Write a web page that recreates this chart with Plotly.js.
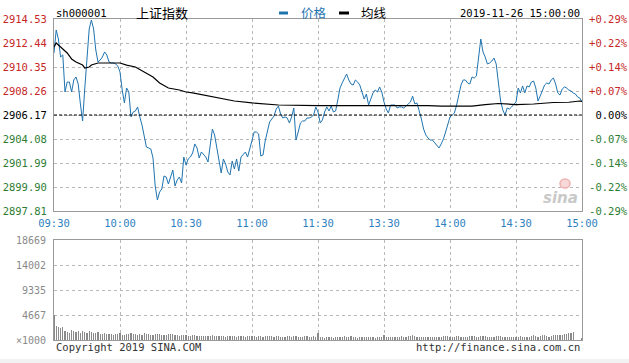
<!DOCTYPE html>
<html>
<head>
<meta charset="utf-8">
<script src="https://cdn.plot.ly/plotly-3.0.1.min.js"></script>
<style>
html,body{margin:0;padding:0;background:#fff;}
#chart{width:629px;height:363px;}
</style>
</head>
<body>
<div id="chart"></div>
<script>
// ---------- DATA ----------
const symbol = 'sh000001';
const indexName = '上证指数';
const stamp = '2019-11-26 15:00:00';
const timeLabels = ['09:30','10:00','10:30','11:00','11:30','13:30','14:00','14:30','15:00'];
const timeTickMinutes = [0,30,60,90,120,150,180,210,240];
const prevClose = 2906.17;
const priceTicks = [2897.81, 2899.90, 2901.99, 2904.08, 2906.17, 2908.26, 2910.35, 2912.44, 2914.53];
const volTicks = [0, 4667, 9335, 14002, 18669];
const volTickLabels = ['×1000','4667','9335','14002','18669'];

// price per minute (minute 0 = 09:30 ... 240 = 15:00)
const price = [
2911.57,2913.57,2912.79,2911.22,2911.40,2908.17,2909.04,2909.04,2908.17,2909.22,
2909.48,2908.87,2907.13,2905.65,2908.52,2911.13,2913.66,2914.44,2913.66,2911.83,
2910.79,2910.96,2911.22,2911.66,2911.40,2910.79,2910.70,2910.70,2910.61,2910.44,
2909.91,2908.35,2907.22,2908.52,2908.17,2906.00,2906.43,2906.52,2906.87,2906.00,
2905.30,2904.34,2903.38,2903.30,2903.21,2902.43,2899.99,2898.77,2899.46,2899.73,
2900.86,2900.77,2900.16,2900.77,2901.38,2899.99,2900.51,2900.77,2900.25,2902.51,
2901.82,2902.34,2902.51,2902.86,2903.65,2903.30,2902.43,2902.95,2902.77,2902.51,
2902.08,2903.47,2904.95,2904.43,2903.30,2902.34,2901.12,2902.34,2901.90,2901.21,
2900.95,2902.16,2901.47,2902.34,2901.29,2902.51,2902.77,2902.95,2902.51,2903.30,
2904.17,2904.69,2904.69,2904.52,2902.60,2902.69,2903.91,2904.78,2905.56,2905.82,
2906.08,2906.69,2906.95,2906.26,2905.91,2906.00,2905.91,2905.47,2906.00,2906.78,
2903.99,2904.69,2905.47,2905.65,2905.65,2905.91,2905.91,2906.00,2906.17,2906.87,
2906.43,2905.47,2905.74,2906.43,2906.87,2906.52,2906.95,2906.43,2906.52,2907.48,
2908.52,2908.96,2909.39,2909.74,2909.22,2908.87,2908.78,2909.22,2909.04,2908.78,
2908.17,2907.56,2908.00,2907.04,2907.56,2908.09,2908.35,2908.17,2908.61,2908.17,
2907.30,2906.69,2906.34,2907.04,2907.04,2907.04,2906.78,2906.87,2906.87,2906.78,
2906.95,2907.13,2907.30,2907.82,2907.13,2907.22,2906.61,2905.82,2904.95,2904.43,
2904.17,2903.99,2903.99,2903.73,2903.56,2903.30,2903.65,2904.08,2904.69,2905.39,
2906.00,2906.17,2906.34,2907.04,2907.91,2908.78,2909.22,2909.22,2908.96,2908.87,
2909.48,2909.39,2909.57,2911.05,2912.79,2911.66,2911.22,2910.61,2910.70,2910.87,
2911.13,2910.61,2909.22,2907.39,2906.61,2906.17,2906.78,2906.69,2906.87,2907.13,
2907.30,2908.52,2908.09,2908.70,2908.09,2908.70,2908.61,2909.04,2909.13,2908.52,
2907.39,2907.82,2908.35,2908.78,2908.96,2908.87,2909.22,2909.39,2908.87,2908.09,
2907.91,2908.43,2908.61,2908.52,2908.35,2908.26,2908.09,2908.00,2907.74,2907.65,
2907.30
];

// average price line, read at selected minutes
const avgMinutes = [0,1,4,6,8,10,13,14,16,17,20,30,33,37,41,45,48,52,57,60,63,70,78,82,90,96,102,120,137,138,160,170,176,190,196,202,210,218,227,234,239,240];
const avgValues  = [2912.09,2912.44,2911.92,2911.57,2911.05,2910.79,2910.52,2910.26,2910.35,2910.52,2910.70,2910.70,2910.52,2910.35,2909.91,2909.48,2908.96,2908.52,2908.35,2908.17,2908.09,2907.82,2907.56,2907.39,2907.22,2907.13,2907.04,2906.99,2906.99,2907.04,2907.04,2906.99,2906.95,2906.95,2907.08,2907.17,2907.08,2907.13,2907.26,2907.28,2907.39,2907.35];

// volume per minute (x1000)
const volume = [
4700,2650,2400,2200,2350,1650,1550,1400,1900,1750,
1450,1600,1350,1750,1550,1400,1650,1500,1250,1300,
1450,1200,1150,1250,1100,1050,1150,1000,1050,1100,
1250,1000,950,1050,1150,1400,1200,1100,1000,1050,
1000,1250,1150,1050,950,1000,1100,1200,1050,900,
950,1000,1150,1200,1050,900,850,800,900,1000,
950,800,750,850,900,800,750,700,800,750,
700,800,850,750,700,750,800,700,650,750,
800,700,750,650,700,750,700,650,700,750,
800,700,650,700,750,650,700,750,800,700,
650,700,750,650,600,650,700,750,650,700,
750,650,600,650,700,750,650,600,700,650,
1400,600,500,450,500,550,500,450,500,550,
500,600,700,550,500,700,600,500,450,500,
550,600,500,650,550,500,450,500,550,500,
900,600,550,500,650,550,500,600,700,550,
650,700,800,850,700,600,550,500,550,600,
550,500,600,550,500,600,650,700,800,750,
600,550,650,700,750,650,600,550,650,700,
800,750,650,600,700,800,750,650,600,550,
600,700,800,750,650,550,500,600,550,500,
600,650,700,600,550,500,600,800,850,700,
600,750,900,850,700,650,800,900,950,850,
900,1000,1100,1150,1300,1400,1550,0,0,0,
400
];

// ---------- LAYOUT HELPERS ----------
const W = 629, H = 363;
const L = 54, R = 582, T = 19, B = 340;
const px2x = p => (p - L) / (R - L);
const py2y = p => (B - p) / (B - T);

const RED = '#c62828', GREEN = '#2e7d32', BLUE = '#1f74b0', TBLUE = '#2f7fbf';
const MONO = 'DejaVu Sans Mono, Liberation Mono, monospace';
const CJK = 'Noto Sans CJK SC, Noto Sans, sans-serif';

const minutes = price.map((_, i) => i);

function colorFor(v) {
  if (Math.abs(v - prevClose) < 0.005) return '#000';
  return v > prevClose ? RED : GREEN;
}
const leftText = priceTicks.map(v => `<span style="color:${colorFor(v)}">${v.toFixed(2)}</span>`);
const rightText = priceTicks.map(v => {
  const p = (v - prevClose) / prevClose * 100;
  const s = Math.abs(p) < 0.005 ? '\u00a00.00%' : (p > 0 ? '+' : '') + p.toFixed(2) + '%';
  return `<span style="color:${colorFor(v)}">${s}</span>`;
});

const traces = [
  {x: minutes, y: price, type: 'scatter', mode: 'lines', line: {color: BLUE, width: 1}, xaxis: 'x', yaxis: 'y', hoverinfo: 'skip'},
  {x: avgMinutes, y: avgValues, type: 'scatter', mode: 'lines', line: {color: '#000', width: 1.2}, xaxis: 'x', yaxis: 'y', hoverinfo: 'skip'},
  {x: minutes, y: price, type: 'scatter', mode: 'lines', line: {color: 'rgba(0,0,0,0)', width: 0}, xaxis: 'x', yaxis: 'y3', hoverinfo: 'skip'},
  {x: minutes, y: volume, type: 'bar', width: 0.5, marker: {color: '#8a8a8a', line: {width: 0}}, xaxis: 'x2', yaxis: 'y2', hoverinfo: 'skip'}
];

const priceRange = [priceTicks[0], priceTicks[priceTicks.length - 1]];
const mainBottom = py2y(211);
const volTop = py2y(240);

const gridCommon = {showgrid: true, gridcolor: '#b8b8b8', griddash: 'dot', gridwidth: 1, zeroline: false,
  showline: true, mirror: true, linecolor: '#9a9a9a', linewidth: 1, ticks: ''};

const layout = {
  width: W, height: H,
  margin: {l: L, r: W - R, t: T, b: H - B, pad: 0},
  paper_bgcolor: '#fff', plot_bgcolor: '#fff',
  showlegend: false,
  bargap: 0,
  xaxis: Object.assign({}, gridCommon, {domain: [0, 1], anchor: 'y', range: [0, 240],
    tickmode: 'array', tickvals: timeTickMinutes, ticktext: timeLabels,
    tickfont: {family: MONO, size: 10.5, color: TBLUE}, ticklen: 2, tickcolor: 'rgba(0,0,0,0)', ticks: 'outside'}),
  yaxis: Object.assign({}, gridCommon, {domain: [mainBottom, 1], anchor: 'x', range: priceRange,
    tickmode: 'array', tickvals: priceTicks, ticktext: leftText,
    tickfont: {family: MONO, size: 10.5}, ticklen: 4, tickcolor: 'rgba(0,0,0,0)', ticks: 'outside'}),
  yaxis3: {overlaying: 'y', side: 'right', anchor: 'x', range: priceRange, showgrid: false, zeroline: false,
    showline: false, tickmode: 'array', tickvals: priceTicks, ticktext: rightText,
    tickfont: {family: MONO, size: 10.5}, ticklen: 4, tickcolor: 'rgba(0,0,0,0)', ticks: 'outside'},
  xaxis2: Object.assign({}, gridCommon, {domain: [0, 1], anchor: 'y2', range: [0, 240],
    tickmode: 'array', tickvals: timeTickMinutes, showticklabels: false}),
  yaxis2: Object.assign({}, gridCommon, {domain: [0, volTop], anchor: 'x2', range: [0, volTicks[volTicks.length - 1]],
    tickmode: 'array', tickvals: volTicks, ticktext: volTickLabels,
    tickfont: {family: MONO, size: 10, color: '#8a8a8a'}, ticklen: 5, tickcolor: 'rgba(0,0,0,0)', ticks: 'outside'}),
  shapes: [
    {type: 'line', xref: 'x', yref: 'y', x0: 0, x1: 240, y0: prevClose, y1: prevClose,
      line: {color: '#000', width: 1, dash: '3px,2px'}},
    {type: 'line', xref: 'paper', yref: 'paper', x0: px2x(279), x1: px2x(288), y0: py2y(13), y1: py2y(13),
      line: {color: BLUE, width: 3}},
    {type: 'line', xref: 'paper', yref: 'paper', x0: px2x(339), x1: px2x(349), y0: py2y(13), y1: py2y(13),
      line: {color: '#000', width: 3}},
    {type: 'rect', xref: 'paper', yref: 'paper', x0: px2x(0), x1: px2x(W), y0: py2y(359), y1: py2y(H),
      line: {width: 0}, fillcolor: '#f2f2f2', layer: 'below'},
    {type: 'circle', xref: 'paper', yref: 'paper', x0: px2x(560), x1: px2x(570), y0: py2y(188), y1: py2y(179),
      line: {color: '#f0b0b0', width: 1.5}, fillcolor: 'rgba(240,180,180,0.5)'}
  ],
  annotations: [
    {xref: 'paper', yref: 'paper', x: px2x(54), y: py2y(13), xanchor: 'left', yanchor: 'middle', showarrow: false,
      text: symbol, font: {family: MONO, size: 10.5, color: '#000'}},
    {xref: 'paper', yref: 'paper', x: px2x(134), y: py2y(12), xanchor: 'left', yanchor: 'middle', showarrow: false,
      text: indexName, font: {family: CJK, size: 13, color: '#000'}},
    {xref: 'paper', yref: 'paper', x: px2x(299), y: py2y(12), xanchor: 'left', yanchor: 'middle', showarrow: false,
      text: '价格', font: {family: CJK, size: 12.5, color: BLUE}},
    {xref: 'paper', yref: 'paper', x: px2x(359), y: py2y(12), xanchor: 'left', yanchor: 'middle', showarrow: false,
      text: '均线', font: {family: CJK, size: 12.5, color: '#000'}},
    {xref: 'paper', yref: 'paper', x: px2x(582), y: py2y(13), xanchor: 'right', yanchor: 'middle', showarrow: false,
      text: stamp, font: {family: MONO, size: 10.5, color: '#000'}},
    {xref: 'paper', yref: 'paper', x: px2x(54), y: py2y(347), xanchor: 'left', yanchor: 'middle', showarrow: false,
      text: 'Copyright 2019 SINA.COM', font: {family: MONO, size: 10.5, color: '#333'}},
    {xref: 'paper', yref: 'paper', x: px2x(582), y: py2y(347), xanchor: 'right', yanchor: 'middle', showarrow: false,
      text: 'http://finance.sina.com.cn', font: {family: MONO, size: 10.5, color: '#333'}},
    {xref: 'paper', yref: 'paper', x: px2x(580), y: py2y(198), xanchor: 'right', yanchor: 'middle', showarrow: false,
      text: '<b><i>sina</i></b>', font: {family: 'DejaVu Sans, sans-serif', size: 15, color: '#c9c9c9'}}
  ]
};

Plotly.newPlot('chart', traces, layout, {staticPlot: true, displayModeBar: false});
</script>
</body>
</html>
